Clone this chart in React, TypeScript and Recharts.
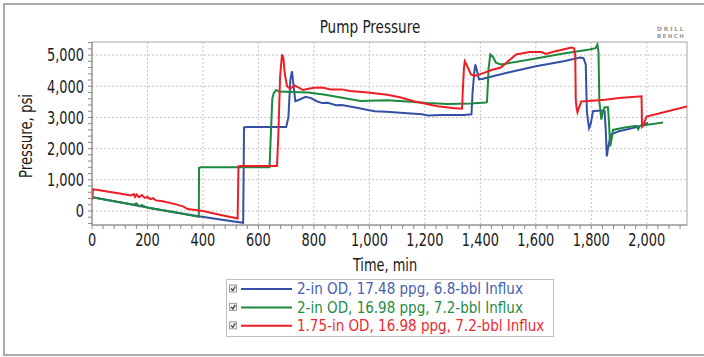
import React from "react";
import { LineChart, Line, XAxis, YAxis, CartesianGrid, ReferenceArea } from "recharts";

// ---------- data ----------
const blueTime = [0, 100, 200, 300, 385, 450, 545, 548, 560, 700, 708, 715, 721, 727, 733, 745, 770, 790, 810, 830, 850, 880, 900, 930, 960, 990, 1020, 1060, 1100, 1150, 1190, 1210, 1260, 1300, 1340, 1368, 1372, 1378, 1382, 1388, 1395, 1410, 1434, 1500, 1600, 1700, 1740, 1760, 1772, 1780, 1784, 1788, 1792, 1798, 1806, 1830, 1848, 1852, 1856, 1860, 1870, 1900, 1963, 2005];
const bluePressure = [440, 280, 110, -50, -170, -260, -380, 2680, 2690, 2690, 3000, 4200, 4480, 4000, 3520, 3560, 3660, 3620, 3520, 3460, 3470, 3390, 3400, 3350, 3300, 3250, 3200, 3180, 3160, 3130, 3100, 3060, 3080, 3080, 3080, 3100, 3800, 4450, 4700, 4500, 4220, 4240, 4300, 4440, 4640, 4800, 4880, 4920, 4900, 4700, 3200, 2900, 2660, 2800, 3200, 3220, 3200, 2600, 1750, 2000, 2450, 2560, 2690, 2820];

const greenTime = [0, 100, 150, 160, 170, 180, 200, 300, 385, 386, 392, 640, 645, 650, 655, 664, 675, 720, 780, 841, 902, 968, 1065, 1150, 1209, 1282, 1366, 1420, 1424, 1430, 1436, 1445, 1456, 1474, 1600, 1700, 1794, 1815, 1822, 1826, 1829, 1832, 1836, 1842, 1848, 1860, 1864, 1868, 1873, 1878, 1920, 1963, 1969, 1975, 2059];
const greenPressure = [440, 280, 200, 240, 150, 190, 100, -40, -190, 1380, 1400, 1400, 2500, 3600, 3780, 3880, 3830, 3820, 3800, 3730, 3630, 3530, 3550, 3500, 3460, 3430, 3450, 3480, 3500, 4600, 5020, 4950, 4760, 4700, 4890, 5050, 5180, 5220, 5340, 5100, 3500, 3300, 2930, 3200, 3330, 3330, 2800, 2070, 2300, 2600, 2680, 2730, 2620, 2730, 2840];

const redTime = [0, 4, 10, 60, 100, 140, 150, 155, 160, 170, 180, 190, 200, 210, 220, 230, 250, 300, 330, 345, 400, 460, 525, 528, 535, 667, 672, 678, 685, 690, 695, 703, 715, 730, 745, 760, 781, 800, 830, 860, 900, 930, 986, 1065, 1110, 1160, 1245, 1300, 1334, 1337, 1341, 1344, 1350, 1366, 1380, 1413, 1440, 1474, 1500, 1529, 1577, 1620, 1637, 1660, 1698, 1728, 1738, 1742, 1744, 1747, 1750, 1755, 1764, 1850, 1900, 1981, 1983, 1988, 1999, 2145];
const redPressure = [350, 700, 690, 620, 560, 500, 540, 450, 530, 440, 510, 420, 450, 380, 410, 340, 320, 220, 140, 60, 0, -120, -240, 1430, 1440, 1440, 2500, 4300, 5020, 4900, 4400, 4000, 3920, 4030, 3960, 3880, 3920, 3950, 3960, 3900, 3900, 3850, 3810, 3730, 3650, 3520, 3360, 3300, 3280, 3900, 4600, 4800, 4700, 4380, 4330, 4430, 4520, 4600, 4800, 5020, 5100, 5100, 5040, 5100, 5180, 5240, 5220, 5000, 3560, 3300, 3170, 3300, 3510, 3570, 3620, 3680, 2700, 2750, 3030, 3350];

const seriesNames = [
  "2-in OD, 17.48 ppg, 6.8-bbl Influx",
  "2-in OD, 16.98 ppg, 7.2-bbl Influx",
  "1.75-in OD, 16.98 ppg, 7.2-bbl Influx",
];
const lineColors = ["#3450a4", "#1b8a3e", "#ee1d24"];
const legendTextColors = ["#4660b2", "#248c46", "#ee2a2f"];

const xMajorTicks = [0, 200, 400, 600, 800, 1000, 1200, 1400, 1600, 1800, 2000];
const yMajorTicks = [0, 1000, 2000, 3000, 4000, 5000];
const xMinorTicks = Array.from({ length: 54 }, (_, i) => i * 40);
const yMinorTicks = Array.from({ length: 30 }, (_, i) => -400 + i * 200);
const xDomain = [0, 2145];
const yDomain = [-450, 5420];

const title = "Pump Pressure";
const xLabel = "Time, min";
const yLabel = "Pressure, psi";

const toPoints = (t: number[], p: number[]) => t.map((v, i) => ({ t: v, p: p[i] }));
const seriesData = [
  toPoints(blueTime, bluePressure),
  toPoints(greenTime, greenPressure),
  toPoints(redTime, redPressure),
];

const FONT = "'Liberation Sans Narrow', 'Arial Narrow', 'DejaVu Sans Condensed', sans-serif";
const fmt = (v: number) => v.toLocaleString("en-US");

const XTick = (props: any) => {
  const { x, y, payload } = props;
  if (payload.value % 200 !== 0) return <g />;
  return (
    <text transform={`translate(${x},${y}) scale(0.8,1)`} x={0} y={0} dy="0.71em" textAnchor="middle" fontFamily={FONT} fontSize={18} fill="#1a1a1a">
      {fmt(payload.value)}
    </text>
  );
};
const YTick = (props: any) => {
  const { x, y, payload } = props;
  if (payload.value % 1000 !== 0) return <g />;
  return (
    <text transform={`translate(${x},${y}) scale(0.8,1)`} x={0} y={0} dy="0.355em" textAnchor="end" fontFamily={FONT} fontSize={18} fill="#1a1a1a">
      {fmt(payload.value)}
    </text>
  );
};

export default function App() {
  return (
    <div style={{ position: "absolute", left: 0, top: 0, width: 704, height: 357, overflow: "hidden", background: "#fff" }}>
      <div style={{ position: "absolute", left: 3, top: 3, width: 760, height: 349, border: "2.5px solid #aaaaaa" }} />
      <div style={{ position: "absolute", left: 0, top: 0 }}>
        <LineChart width={704} height={357} margin={{ top: 42, right: 17, bottom: 102, left: 0 }}>
          <XAxis
            xAxisId="main"
            type="number"
            dataKey="t"
            domain={xDomain}
            ticks={xMinorTicks}
            interval={0}
            height={30}
            tickSize={4}
            tickMargin={4}
            stroke="#8a8a8a"
            tick={<XTick />}
            allowDataOverflow
          />
          <YAxis
            yAxisId="main"
            type="number"
            dataKey="p"
            domain={yDomain}
            ticks={yMinorTicks}
            interval={0}
            width={92}
            tickSize={4}
            tickMargin={4}
            stroke="#8a8a8a"
            tick={<YTick />}
            allowDataOverflow
          />
          <XAxis xAxisId="grid" type="number" dataKey="t" domain={xDomain} ticks={xMajorTicks} hide height={0} allowDataOverflow />
          <YAxis yAxisId="grid" type="number" dataKey="p" domain={yDomain} ticks={yMajorTicks} hide width={0} allowDataOverflow />
          <CartesianGrid xAxisId="grid" yAxisId="grid" stroke="#c4c4c4" strokeDasharray="2 2" />
          <ReferenceArea xAxisId="main" yAxisId="main" x1={xDomain[0]} x2={xDomain[1]} y1={yDomain[0]} y2={yDomain[1]} fill="none" stroke="#c8c8c8" strokeWidth={1.5} ifOverflow="visible" />
          {seriesData.map((d, i) => (
            <Line
              key={i}
              xAxisId="main"
              yAxisId="main"
              data={d}
              dataKey="p"
              name={seriesNames[i]}
              type="linear"
              stroke={lineColors[i]}
              strokeWidth={2}
              dot={false}
              isAnimationActive={false}
            />
          ))}
        </LineChart>
      </div>
      <svg width={704} height={357} style={{ position: "absolute", left: 0, top: 0, pointerEvents: "none" }}>
        <text transform="translate(370,33) scale(0.84,1)" x={0} y={0} textAnchor="middle" fontFamily={FONT} fontSize={18} fill="#1a1a1a">{title}</text>
        <text transform="translate(385,271) scale(0.8,1)" x={0} y={0} textAnchor="middle" fontFamily={FONT} fontSize={18} fill="#1a1a1a">{xLabel}</text>
        <text transform="translate(31.5,136) rotate(-90) scale(0.82,1)" x={0} y={0} textAnchor="middle" fontFamily={FONT} fontSize={18} fill="#1a1a1a">{yLabel}</text>
        <text x={657} y={31} fontFamily="'DejaVu Sans', sans-serif" fontSize={6} fontWeight="bold" fill="#9a9a9a" letterSpacing={1.8}>DRILL</text>
        <text x={657} y={38} fontFamily="'DejaVu Sans', sans-serif" fontSize={5.5} fontWeight="bold" fill="#9a9a9a" letterSpacing={1.4}>BENCH</text>
        <rect x={226.5} y={279.5} width={327} height={57} fill="#fff" stroke="#c0c0c0" strokeWidth={1} />
        {seriesNames.map((name, i) => {
          const cy = 289 + i * 18.4;
          return (
            <g key={i}>
              <rect x={229.5} y={cy - 4} width={7} height={7} fill="#f2f2f2" stroke="#9a9a9a" strokeWidth={1} />
              <path d={`M231 ${cy - 0.5} L232.8 ${cy + 1.5} L235.3 ${cy - 2.5}`} fill="none" stroke="#333" strokeWidth={1.2} />
              <line x1={241} x2={292} y1={cy} y2={cy} stroke={lineColors[i]} strokeWidth={2} />
              <text x={297} y={cy + 5.3} fontFamily={FONT} fontSize={15} fill={legendTextColors[i]}>{name}</text>
            </g>
          );
        })}
      </svg>
    </div>
  );
}
